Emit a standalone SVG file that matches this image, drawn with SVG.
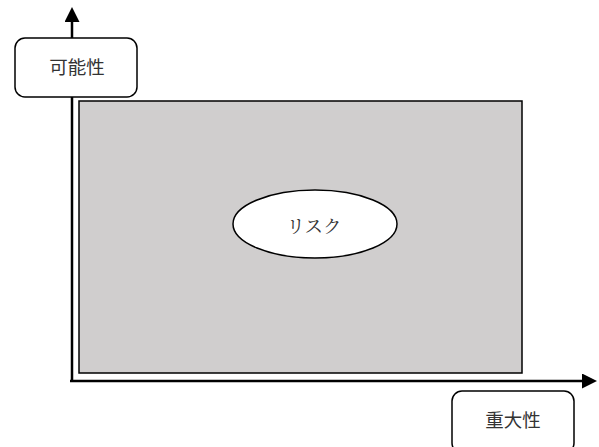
<svg xmlns="http://www.w3.org/2000/svg" width="599" height="447" viewBox="0 0 599 447">
<style>
.lbl{fill:#fff;stroke:#000;stroke-width:1.5}
.t{font-family:"Noto Sans CJK JP","Noto Sans",sans-serif;font-size:18.5px;fill:#333;text-anchor:middle;dominant-baseline:central}
.ax{stroke:#000;stroke-width:2.5;fill:none}
</style>
<defs>
<marker id="ah" viewBox="0 0 10 10" refX="0" refY="5" markerWidth="6" markerHeight="6" markerUnits="strokeWidth" orient="auto"><path d="M0,0L10,5L0,10z" fill="#000"/></marker>
</defs>
<g id="area"><rect x="79" y="101" width="443" height="272" fill="#d0cece" stroke="#000" stroke-width="1.5"/></g>
<g id="connectors">
<line class="ax" x1="72" y1="382" x2="72" y2="22" marker-end="url(#ah)"/>
<line class="ax" x1="70" y1="381" x2="582" y2="381" marker-end="url(#ah)"/>
</g>
<g id="kanousei"><rect class="lbl" x="15" y="38" width="122" height="59" rx="10"/><text class="t" x="77" y="66">可能性</text></g>
<g id="juudaisei"><rect class="lbl" x="452" y="391" width="122" height="62" rx="10"/><text class="t" x="513" y="419">重大性</text></g>
<g id="risk"><ellipse cx="315" cy="224" rx="82" ry="34" fill="#fff" stroke="#000" stroke-width="1.5"/><text class="t" x="314" y="225" style="font-family:'Noto Serif CJK JP','Noto Sans CJK JP',serif">リスク</text></g>
</svg>
